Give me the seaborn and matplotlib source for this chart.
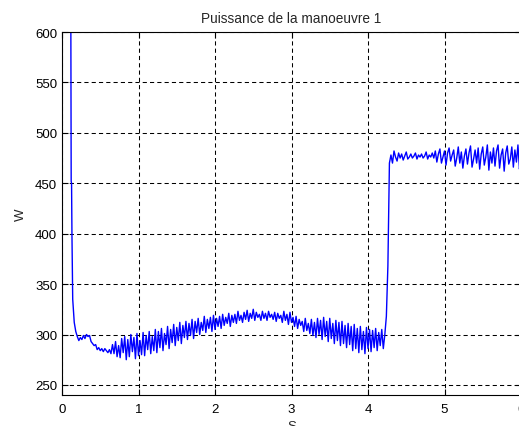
import numpy as np
import pandas as pd
import matplotlib
matplotlib.use("Agg")
import matplotlib.pyplot as plt
import seaborn as sns

# ---- data ----
t_head = [0.113, 0.120, 0.125, 0.130, 0.140]
p_head = [700, 452, 450, 400, 335]

# t = 0.16 .. 0.64, step 0.02
p_settle = [312, 303, 298, 294, 297, 295, 299, 296, 300, 298,
            299, 293, 291, 289, 290, 285, 287, 284, 286, 283,
            286, 284, 282, 285, 281]

# t = 0.66 .. 4.22, step 0.02
p_osc = [290, 281, 293, 278, 289, 277, 296, 282, 298, 275,
         295, 278, 300, 283, 297, 276, 301, 279, 294, 280,
         302, 279, 299, 285, 303, 281, 298, 284, 305, 282,
         303, 287, 306, 284, 301, 290, 308, 286, 305, 292,
         310, 289, 307, 294, 312, 291, 309, 297, 313, 295,
         311, 299, 315, 296, 313, 302, 316, 300, 312, 304,
         318, 302, 315, 306, 317, 303, 319, 305, 316, 308,
         318, 306, 320, 309, 317, 311, 321, 308, 319, 312,
         320, 311, 323, 314, 319, 312, 322, 315, 324, 313,
         321, 316, 325, 314, 322, 317, 320, 314, 323, 316,
         321, 314, 323, 317, 320, 315, 322, 313, 321, 316,
         319, 312, 323, 314, 320, 310, 322, 312, 317, 308,
         318, 306, 315, 309, 313, 303, 316, 304, 311, 301,
         315, 299, 312, 297, 316, 300, 314, 295, 317, 298,
         313, 293, 316, 296, 311, 291, 314, 294, 312, 289,
         313, 291, 309, 287, 311, 290, 308, 284, 310, 286,
         306, 282, 308, 285, 303, 281, 307, 286, 305, 283,
         304, 287, 306, 284, 302, 289, 305, 286, 300]

# jump: t = 4.24, 4.26, 4.28
p_jump = [318, 368, 470]

# t = 4.30 .. 6.00, step 0.02
p_high = [478, 470, 482, 476, 472, 480, 475, 479, 473, 477,
          481, 474, 476, 479, 475, 477, 480, 474, 478, 476,
          479, 475, 477, 481, 474, 478, 476, 480, 475, 482,
          471, 479, 484, 470, 476, 482, 468, 480, 485, 472,
          478, 483, 467, 475, 486, 470, 481, 465, 477, 484,
          469, 480, 487, 466, 474, 483, 470, 485, 464, 479,
          486, 468, 476, 488, 463, 481, 470, 485, 467, 482,
          488, 465, 478, 484, 462, 480, 487, 469, 474, 486,
          466, 483, 471, 488, 464, 479]

x_ticks = [0, 1, 2, 3, 4, 5, 6]
y_ticks = [250, 300, 350, 400, 450, 500, 550, 600]
title = "Puissance de la manoeuvre 1"
x_label = "S"
y_label = "W"

# sample times
t_settle = np.round(0.16 + 0.02 * np.arange(len(p_settle)), 3)
t_osc = np.round(0.66 + 0.02 * np.arange(len(p_osc)), 3)
t_jump = np.round(4.24 + 0.02 * np.arange(len(p_jump)), 3)
t_high = np.round(4.30 + 0.02 * np.arange(len(p_high)), 3)

df = pd.DataFrame({
    "t": np.concatenate([t_head, t_settle, t_osc, t_jump, t_high]),
    "p": np.concatenate([p_head, p_settle, p_osc, p_jump, p_high]),
})

# ---- plotting ----
sns.set_style("ticks")
plt.rcParams["font.family"] = ["Liberation Sans", "DejaVu Sans"]
plt.rcParams["font.size"] = 9

fig = plt.figure(figsize=(5.19, 4.27), dpi=100)
ax = fig.add_axes([62 / 519, (427 - 396) / 427, (521 - 62) / 519, (396 - 33) / 427])

sns.lineplot(data=df, x="t", y="p", ax=ax, color="#0000ff", linewidth=1.0,
             estimator=None, sort=False)

ax.set_xlim(0, 6)
ax.set_ylim(240, 600)
ax.set_xticks(x_ticks)
ax.set_yticks(y_ticks)
ax.set_xticklabels([str(v) for v in x_ticks])
ax.set_yticklabels([str(v) for v in y_ticks])
ax.tick_params(direction="in", length=4, width=0.8, colors="black",
               labelsize=9.5, top=True, right=True)
ax.tick_params(axis="x", pad=5.5)
ax.grid(True, color="black", linestyle=(0, (4, 3)), linewidth=0.75)
for s in ax.spines.values():
    s.set_color("black")
    s.set_linewidth(0.8)

ax.set_title(title, fontsize=9.8, pad=7)
ax.set_xlabel(x_label, fontsize=9.5, labelpad=4)
ax.set_ylabel(y_label, fontsize=9.5, labelpad=5.5)

fig.savefig("out.png", dpi=100)
